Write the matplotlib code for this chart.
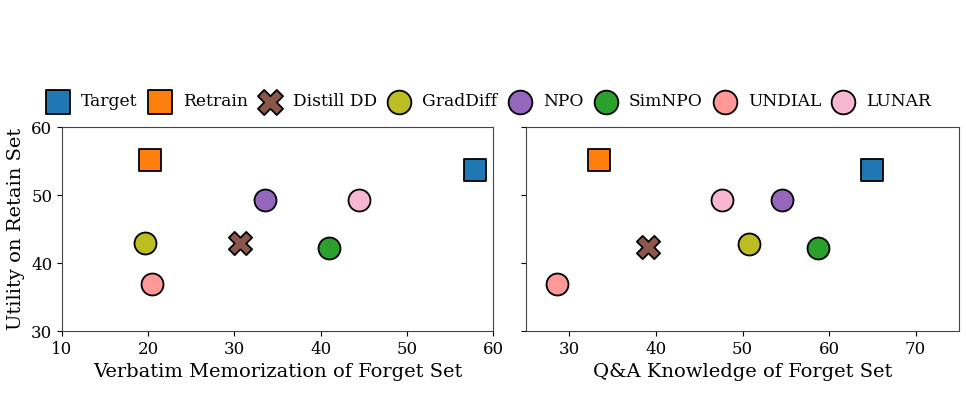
import matplotlib
matplotlib.use("Agg")
import matplotlib.pyplot as plt

methods = ["Target", "Retrain", "Distill DD", "GradDiff", "NPO", "SimNPO", "UNDIAL", "LUNAR"]
verbatim = [57.9, 20.2, 30.6, 19.6, 33.5, 41.0, 20.4, 44.5]
qa_knowledge = [64.9, 33.4, 39.1, 50.7, 54.6, 58.7, 28.6, 47.6]
utility_left = [53.7, 55.1, 42.9, 42.9, 49.3, 42.2, 36.9, 49.2]
utility_right = [53.7, 55.1, 42.4, 42.8, 49.3, 42.2, 36.9, 49.2]

colors = ["#1f77b4", "#ff7f0e", "#8c564b", "#bcbd22", "#9467bd", "#2ca02c", "#ff9896", "#f7b6d2"]
markers = ["s", "s", "X", "o", "o", "o", "o", "o"]
sizes = [240, 240, 280, 250, 250, 250, 250, 250]

plt.rcParams["font.family"] = ["DejaVu Serif"]

fig = plt.figure(figsize=(9.66, 4.07), dpi=100)
ax1 = fig.add_axes([62/966, 1-331/407, 431/966, 204/407])
ax2 = fig.add_axes([526/966, 1-331/407, 433/966, 204/407], sharey=ax1)

for ax, xs, ys in [(ax1, verbatim, utility_left), (ax2, qa_knowledge, utility_right)]:
    for i, m in enumerate(methods):
        ax.scatter(xs[i], ys[i], s=sizes[i], c=colors[i], marker=markers[i],
                   edgecolors="black", linewidths=1.3, label=m, zorder=3)
    ax.tick_params(labelsize=12)
    for sp in ax.spines.values():
        sp.set_color("#444444")

ax1.set_xlim(10, 60)
ax1.set_xticks([10, 20, 30, 40, 50, 60])
ax2.set_xlim(25, 75)
ax2.set_xticks([30, 40, 50, 60, 70])
ax1.set_ylim(30, 60)
ax1.set_yticks([30, 40, 50, 60])
plt.setp(ax2.get_yticklabels(), visible=False)

ax1.set_xlabel("Verbatim Memorization of Forget Set", fontsize=14)
ax2.set_xlabel("Q&A Knowledge of Forget Set", fontsize=14)
ax1.set_ylabel("Utility on Retain Set", fontsize=14)

handles, labels = ax1.get_legend_handles_labels()
fig.legend(handles, labels, loc="center", bbox_to_anchor=(486/966, 1-102/407), ncol=8,
           frameon=False, fontsize=12.3, handletextpad=0.35, columnspacing=0.3,
           markerscale=1.08)

fig.savefig("out.png", dpi=100)
